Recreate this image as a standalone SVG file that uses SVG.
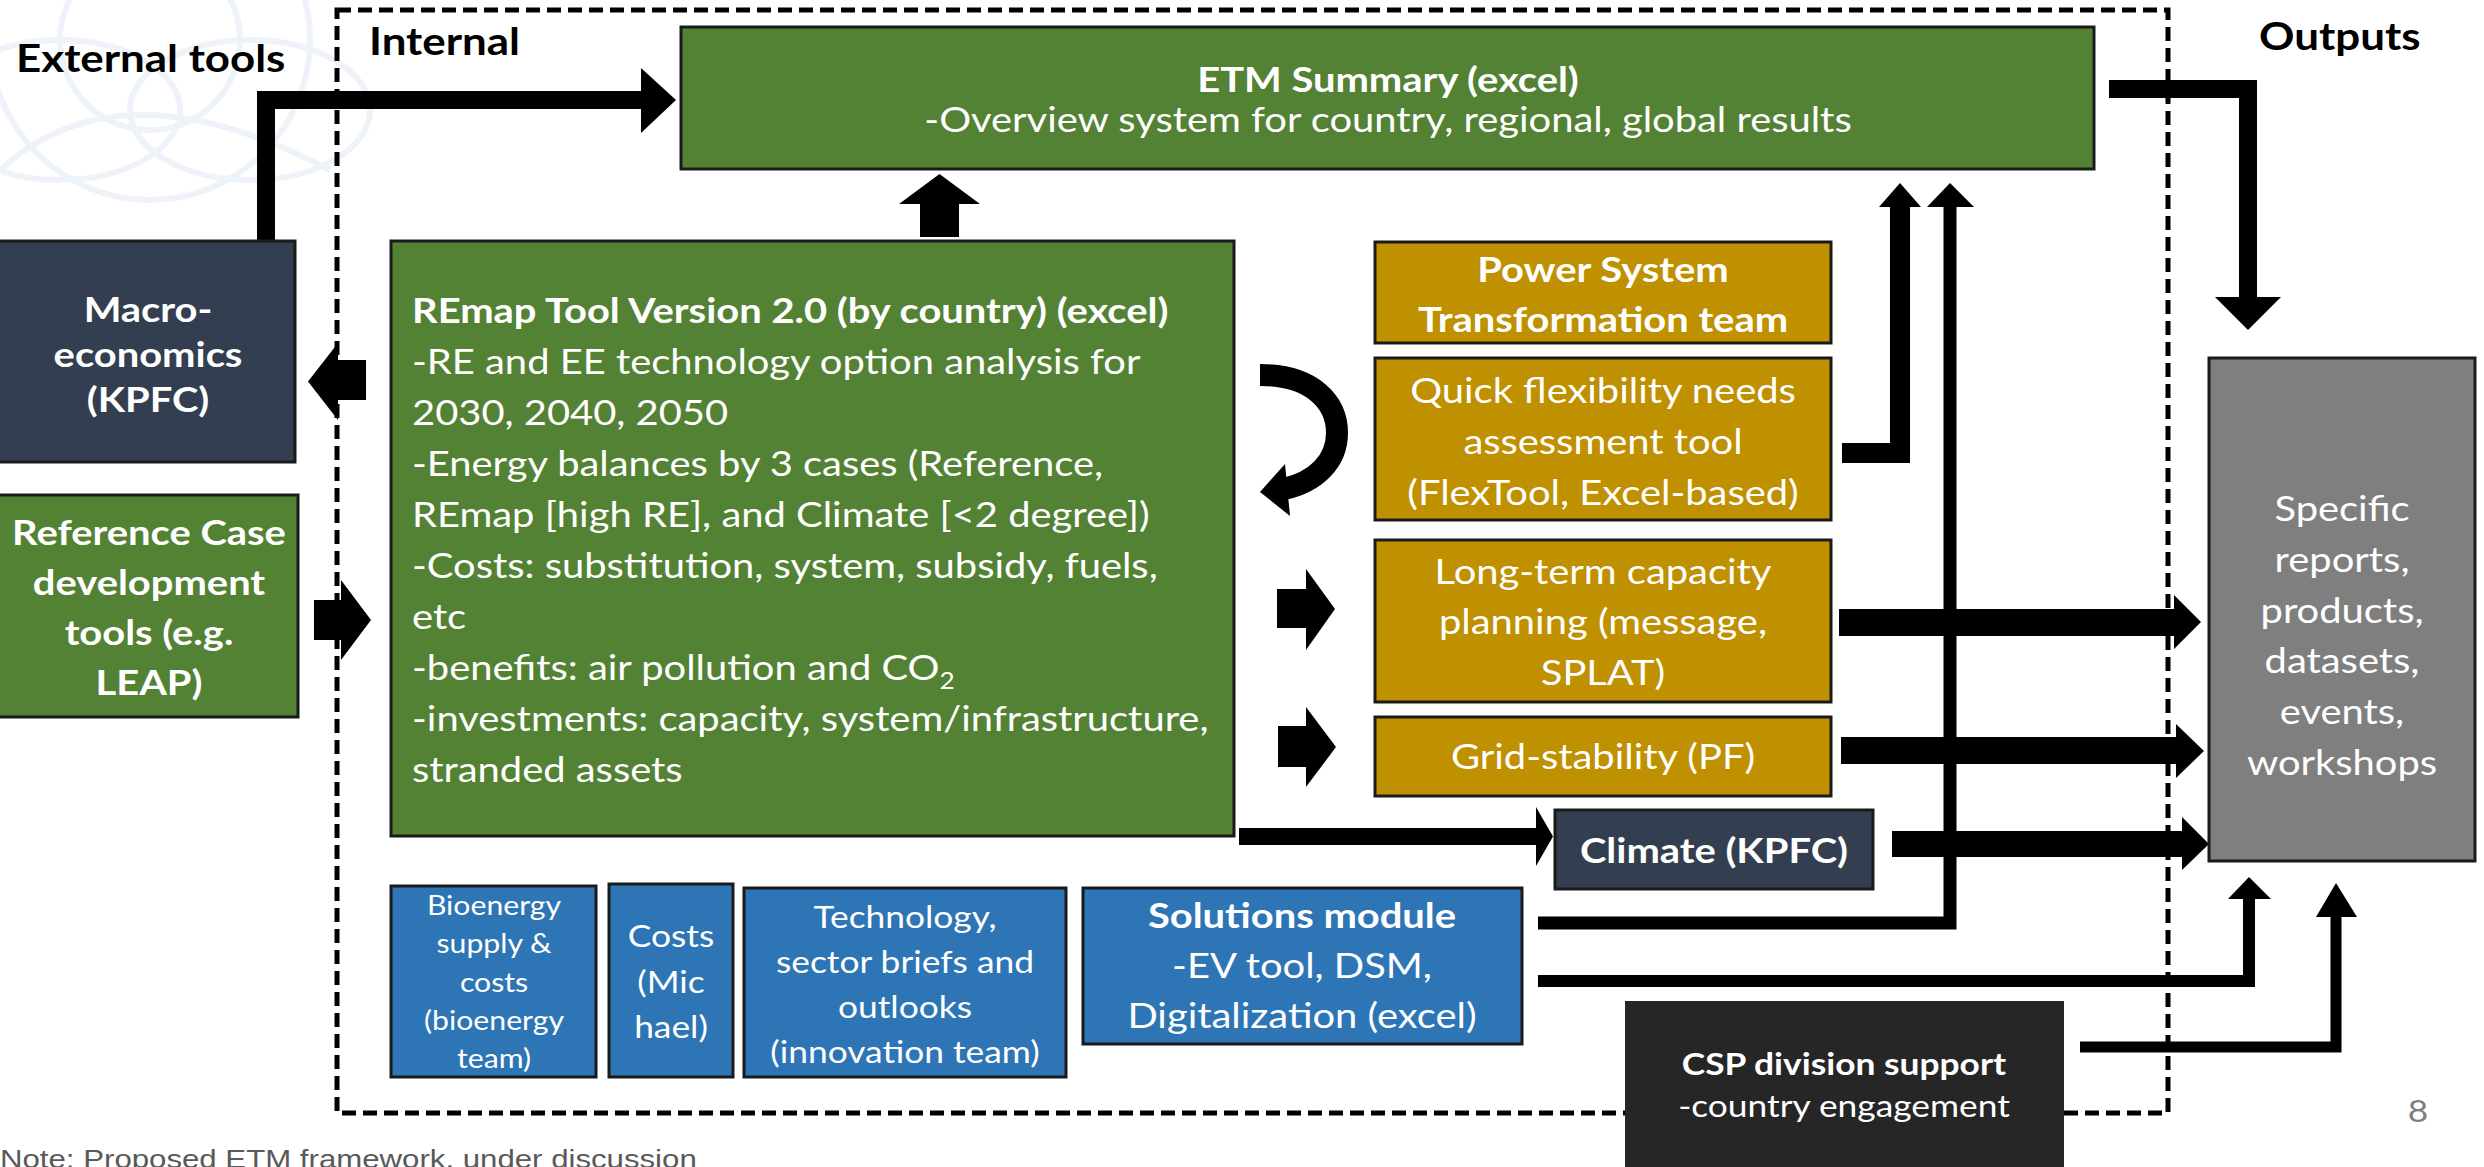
<svg xmlns="http://www.w3.org/2000/svg" width="2484" height="1167" viewBox="0 0 2484 1167">
<style>
.t{font-family:Lato,"Liberation Sans",sans-serif;fill:#fff}
.k{font-family:Lato,"Liberation Sans",sans-serif;fill:#000;font-weight:700;font-size:38.5px}
.b{font-weight:700}
.c{text-anchor:middle}
.f32{font-size:35px}
.f30{font-size:35px}
.f28{font-size:31px}
.f24{font-size:26.5px}
.box{stroke:#1a1a1a;stroke-width:3}
.green{fill:#548235}
.navy{fill:#333F50}
.gold{fill:#BF9000}
.blue{fill:#2E75B6}
.ln{fill:none;stroke:#000;stroke-linejoin:miter;stroke-linecap:butt}
.ar{fill:#000}
</style>
<rect width="2484" height="1167" fill="#fff"/>
<g id="watermark" fill="none" stroke="#eef3f9" stroke-width="6">
<circle cx="150" cy="40" r="90"/>
<circle cx="150" cy="40" r="160"/>
<ellipse cx="60" cy="110" rx="120" ry="70"/>
<ellipse cx="250" cy="110" rx="120" ry="70"/>
<path d="M0,170 Q120,60 330,170"/>
</g>
<g id="labels">
<g transform="translate(16 0) scale(1.14 1)"><text class="k" y="72">External tools</text></g>
<g transform="translate(369 0) scale(1.14 1)"><text class="k" y="55">Internal</text></g>
<g transform="translate(2259 0) scale(1.14 1)"><text class="k" y="50">Outputs</text></g>
<g transform="translate(2418 0) scale(1.14 1)"><text class="c" y="1122" style="font-family:Lato,sans-serif;font-size:31px;fill:#7f7f7f">8</text></g>
<g transform="translate(0 0) scale(1.2 1)"><text y="1168" style="font-family:'Liberation Sans',Arial,sans-serif;font-size:26px;fill:#595959">Note: Proposed ETM framework, under discussion</text></g>
</g>
<rect id="internal-boundary" x="337" y="10" width="1831" height="1103" fill="none" stroke="#000" stroke-width="5" stroke-dasharray="14 7"/>
<g id="connectors">
<path class="ln" d="M266,241 V100 H645" stroke-width="18"/>
<polygon class="ar" points="641,68 676,100 641,133"/>
<path class="ln" d="M2109,89 H2248 V298" stroke-width="18"/>
<polygon class="ar" points="2215,297 2281,297 2248,330"/>
<rect class="ar" x="920" y="203" width="39" height="34"/>
<polygon class="ar" points="899,204 980,204 939.5,174"/>
<rect class="ar" x="337" y="360" width="29" height="40"/>
<polygon class="ar" points="338,343 338,420 308,381.5"/>
<rect class="ar" x="314" y="600" width="28" height="40"/>
<polygon class="ar" points="341,580 341,660 371,620"/>
<path class="ln" d="M1260,375 C1312,375 1337,402 1337,433 C1337,462 1315,482 1284,489" stroke-width="22"/>
<polygon class="ar" points="1285,464 1260,492 1290,516"/>
<rect class="ar" x="1277" y="589" width="30" height="39"/>
<polygon class="ar" points="1306,569 1306,650 1335,609"/>
<rect class="ar" x="1278" y="726" width="29" height="41"/>
<polygon class="ar" points="1306,707 1306,787 1336,747"/>
<path class="ln" d="M1842,453 H1900 V206" stroke-width="20"/>
<polygon class="ar" points="1879,207 1921,207 1900,183"/>
<path class="ln" d="M1839,622.5 H2175" stroke-width="27"/>
<polygon class="ar" points="2174,595 2174,649 2201,622"/>
<path class="ln" d="M1841,750.5 H2176" stroke-width="27"/>
<polygon class="ar" points="2176,724 2176,778 2204,751"/>
<path class="ln" d="M1892,844 H2182" stroke-width="26"/>
<polygon class="ar" points="2182,817 2182,870 2209,844"/>
<path class="ln" d="M1538,923 H1950 V207" stroke-width="13"/>
<polygon class="ar" points="1927,207 1974,207 1950,183"/>
<path class="ln" d="M1538,981 H2249 V899" stroke-width="12"/>
<polygon class="ar" points="2228,899 2271,899 2249,877"/>
<path class="ln" d="M2080,1047 H2336 V917" stroke-width="11"/>
<polygon class="ar" points="2316,917 2357,917 2336,883"/>
<path class="ln" d="M1239,836.5 H1537" stroke-width="17"/>
<polygon class="ar" points="1536,807 1536,866 1553,836.5"/>
</g>
<g id="etm">
<rect class="box green" x="681" y="27" width="1413" height="142"/>
<g transform="translate(1388 0) scale(1.14 1)" class="t c f32">
<text class="b" y="92">ETM Summary (excel)</text>
<text y="132">-Overview system for country, regional, global results</text>
</g>
</g>
<g id="macro">
<rect class="box navy" x="-5" y="241" width="300" height="221"/>
<g transform="translate(148 0) scale(1.14 1)" class="t c b f30">
<text y="322">Macro-</text>
<text y="367">economics</text>
<text y="412">(KPFC)</text>
</g>
</g>
<g id="refcase">
<rect class="box green" x="-5" y="495" width="303" height="222"/>
<g transform="translate(149 0) scale(1.14 1)" class="t c b f32">
<text y="545">Reference Case</text>
<text y="595">development</text>
<text y="645">tools (e.g.</text>
<text y="695">LEAP)</text>
</g>
</g>
<g id="remap">
<rect class="box green" x="391" y="241" width="843" height="595"/>
<g transform="translate(412 0) scale(1.14 1)" class="t f32">
<text class="b" y="323">REmap Tool Version 2.0 (by country) (excel)</text>
<text y="374">-RE and EE technology option analysis for</text>
<text y="425">2030, 2040, 2050</text>
<text y="476">-Energy balances by 3 cases (Reference,</text>
<text y="527">REmap [high RE], and Climate [&lt;2 degree])</text>
<text y="578">-Costs: substitution, system, subsidy, fuels,</text>
<text y="629">etc</text>
<text y="680">-benefits: air pollution and CO<tspan dy="9" font-size="23">2</tspan></text>
<text y="731">-investments: capacity, system/infrastructure,</text>
<text y="782">stranded assets</text>
</g>
</g>
<g id="bioenergy">
<rect class="box blue" x="391" y="886" width="205" height="191"/>
<g transform="translate(494 0) scale(1.14 1)" class="t c f24">
<text y="915">Bioenergy</text>
<text y="953">supply &amp;</text>
<text y="992">costs</text>
<text y="1030">(bioenergy</text>
<text y="1068">team)</text>
</g>
</g>
<g id="costs">
<rect class="box blue" x="609" y="884" width="124" height="193"/>
<g transform="translate(671 0) scale(1.14 1)" class="t c f28">
<text y="947">Costs</text>
<text y="993">(Mic</text>
<text y="1038">hael)</text>
</g>
</g>
<g id="technology">
<rect class="box blue" x="744" y="888" width="322" height="189"/>
<g transform="translate(905 0) scale(1.14 1)" class="t c f28">
<text y="928">Technology,</text>
<text y="973">sector briefs and</text>
<text y="1018">outlooks</text>
<text y="1063">(innovation team)</text>
</g>
</g>
<g id="solutions">
<rect class="box blue" x="1083" y="888" width="439" height="156"/>
<g transform="translate(1302 0) scale(1.14 1)" class="t c f32">
<text class="b" y="928">Solutions module</text>
<text y="978">-EV tool, DSM,</text>
<text y="1028">Digitalization (excel)</text>
</g>
</g>
<g id="pst">
<rect class="box gold" x="1375" y="242" width="456" height="101"/>
<g transform="translate(1603 0) scale(1.14 1)" class="t c b f32">
<text y="282">Power System</text>
<text y="332">Transformation team</text>
</g>
</g>
<g id="flextool">
<rect class="box gold" x="1375" y="358" width="456" height="162"/>
<g transform="translate(1603 0) scale(1.14 1)" class="t c f32">
<text y="403">Quick flexibility needs</text>
<text y="454">assessment tool</text>
<text y="505">(FlexTool, Excel-based)</text>
</g>
</g>
<g id="longterm">
<rect class="box gold" x="1375" y="540" width="456" height="162"/>
<g transform="translate(1603 0) scale(1.14 1)" class="t c f32">
<text y="584">Long-term capacity</text>
<text y="634">planning (message,</text>
<text y="685">SPLAT)</text>
</g>
</g>
<g id="grid">
<rect class="box gold" x="1375" y="717" width="456" height="79"/>
<g transform="translate(1603 0) scale(1.14 1)" class="t c f32">
<text y="769">Grid-stability (PF)</text>
</g>
</g>
<g id="climate">
<rect class="box navy" x="1555" y="810" width="318" height="79"/>
<g transform="translate(1714 0) scale(1.14 1)" class="t c b f32">
<text y="863">Climate (KPFC)</text>
</g>
</g>
<g id="outputs">
<rect class="box" fill="#7F7F7F" x="2209" y="358" width="266" height="503"/>
<g transform="translate(2342 0) scale(1.14 1)" class="t c f32">
<text y="521">Specific</text>
<text y="572">reports,</text>
<text y="623">products,</text>
<text y="673">datasets,</text>
<text y="724">events,</text>
<text y="775">workshops</text>
</g>
</g>
<g id="csp">
<rect fill="#262626" x="1625" y="1001" width="439" height="180"/>
<g transform="translate(1844 0) scale(1.14 1)" class="t c f28">
<text class="b" y="1075">CSP division support</text>
<text y="1117">-country engagement</text>
</g>
</g>
</svg>
